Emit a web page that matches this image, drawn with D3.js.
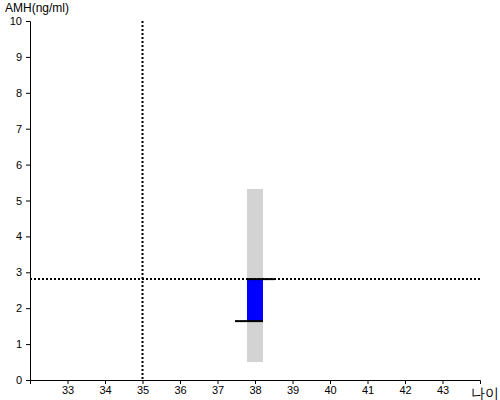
<!DOCTYPE html>
<html>
<head>
<meta charset="utf-8">
<script src="https://cdn.jsdelivr.net/npm/d3@7"></script>
<style>
  body { margin: 0; background: #fff; }
  text { font-family: "Liberation Sans", Arial, sans-serif; }
</style>
</head>
<body>
<div class="chart"></div>
<script>
// chart values
const xTicks = [33, 34, 35, 36, 37, 38, 39, 40, 41, 42, 43];
const yTicks = [0, 1, 2, 3, 4, 5, 6, 7, 8, 9, 10];
const xDomain = [32, 44];
const yDomain = [0, 10];

const refAge = [35];
const refAmh = [2.81];

// patient: age, normal range (grey), measured span (blue)
const patientAge = [38];
const rangeLow = [0.5];
const rangeHigh = [5.32];
const valueLow = [1.64];
const valueHigh = [2.81];

const yLabel = 'AMH(ng/ml)';
const xLabel = '나이';

document.addEventListener('DOMContentLoaded', () => {
  const width = 500;
  const height = 400;
  const margin = {top: 21, left: 30, right: 20, bottom: 20};

  const x = d3.scaleLinear().domain(xDomain)
    .range([margin.left, width - margin.right]);
  const y = d3.scaleLinear().domain(yDomain)
    .range([height - margin.bottom, margin.top]);

  const svg = d3.select('.chart').append('svg')
    .attr('width', width).attr('height', height);

  // grey normal range bar
  const barW = 16;
  svg.selectAll('.range').data(patientAge)
    .enter().append('rect')
    .attr('class', 'range')
    .attr('x', d => x(d) - barW / 2)
    .attr('width', barW)
    .attr('y', (d, i) => y(rangeHigh[i]))
    .attr('height', (d, i) => y(rangeLow[i]) - y(rangeHigh[i]))
    .attr('fill', '#d3d3d3');

  // blue measured bar
  svg.selectAll('.value').data(patientAge)
    .enter().append('rect')
    .attr('class', 'value')
    .attr('x', d => x(d) - barW / 2)
    .attr('width', barW)
    .attr('y', (d, i) => y(valueHigh[i]))
    .attr('height', (d, i) => y(valueLow[i]) - y(valueHigh[i]))
    .attr('fill', '#0000ff');

  // reference dotted lines
  svg.selectAll('.vref').data(refAge)
    .enter().append('line')
    .attr('x1', d => x(d)).attr('x2', d => x(d))
    .attr('y1', y(yDomain[1])).attr('y2', y(yDomain[0]))
    .attr('stroke', '#000').attr('stroke-width', 2)
    .attr('stroke-dasharray', '2,2');

  svg.selectAll('.href').data(refAmh)
    .enter().append('line')
    .attr('x1', x(xDomain[0])).attr('x2', x(xDomain[1]))
    .attr('y1', d => y(d)).attr('y2', d => y(d))
    .attr('stroke', '#000').attr('stroke-width', 2)
    .attr('stroke-dasharray', '2,2');

  // black caps on the blue bar
  const capW = 28;
  svg.selectAll('.capTop').data(patientAge)
    .enter().append('line')
    .attr('x1', d => x(d) - barW / 2).attr('x2', d => x(d) - barW / 2 + capW)
    .attr('y1', (d, i) => y(valueHigh[i])).attr('y2', (d, i) => y(valueHigh[i]))
    .attr('stroke', '#000').attr('stroke-width', 2);
  svg.selectAll('.capBottom').data(patientAge)
    .enter().append('line')
    .attr('x1', d => x(d) + barW / 2 - capW).attr('x2', d => x(d) + barW / 2)
    .attr('y1', (d, i) => y(valueLow[i])).attr('y2', (d, i) => y(valueLow[i]))
    .attr('stroke', '#000').attr('stroke-width', 2);

  // axes
  const xAxis = svg.append('g')
    .attr('transform', `translate(0,${y(0)})`)
    .call(d3.axisBottom(x).tickValues(xTicks).tickSizeOuter(0)
      .tickSize(4).tickPadding(2).tickFormat(d3.format('d')));
  const yAxis = svg.append('g')
    .attr('transform', `translate(${x(xDomain[0])},0)`)
    .call(d3.axisLeft(y).tickValues(yTicks).tickSizeOuter(0)
      .tickSize(4).tickPadding(4).tickFormat(d3.format('d')));

  [xAxis, yAxis].forEach(g => {
    g.selectAll('text')
      .attr('font-family', '"Liberation Sans", Arial, sans-serif')
      .attr('font-size', 11).attr('fill', '#000');
    g.selectAll('path, line').attr('stroke', '#000');
  });

  svg.append('text')
    .attr('x', 5).attr('y', 12)
    .attr('font-size', 12)
    .text(yLabel);

  svg.append('text')
    .attr('x', 471).attr('y', 398)
    .attr('font-size', 14)
    .attr('font-family', '"Noto Sans CJK KR", sans-serif')
    .text(xLabel);
});
</script>
</body>
</html>
